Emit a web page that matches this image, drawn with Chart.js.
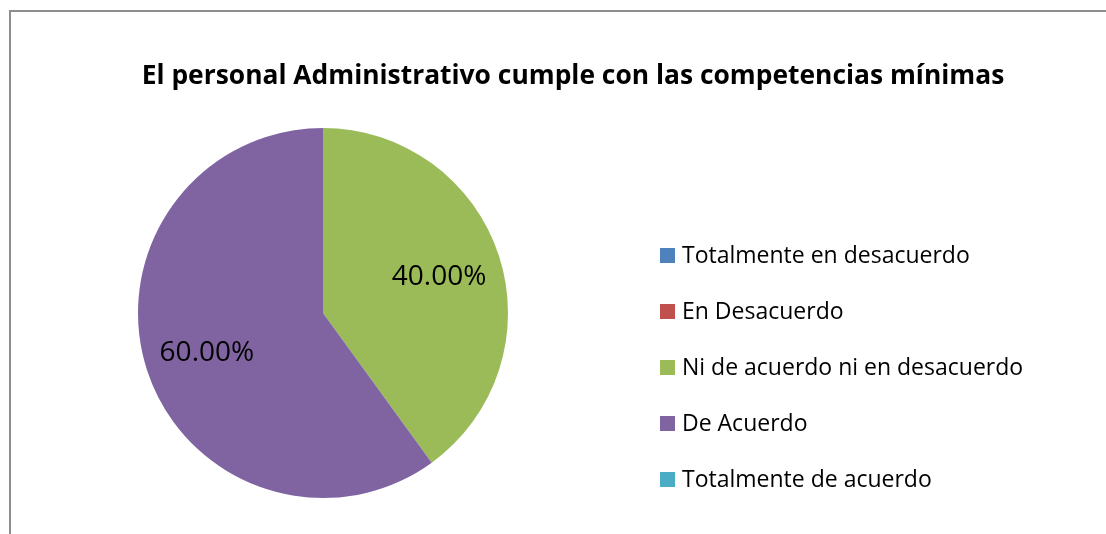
<!DOCTYPE html>
<html lang="es">
<head>
<meta charset="utf-8">
<title>Competencias mínimas</title>
<script src="https://cdn.jsdelivr.net/npm/chart.js@4.4.0/dist/chart.umd.min.js"></script>
<style>
    html, body { margin: 0; padding: 0; background: #fff; overflow: hidden; }
    #frame {
        position: absolute; left: 9px; top: 10px;
        width: 1200px; height: 600px;
        border: 2px solid #8e8e8e;
    }
    #chartBox { position: absolute; left: 0; top: 0; width: 1106px; height: 534px; }
</style>
</head>
<body>
<div id="frame"></div>
<div id="chartBox"><canvas id="pieChart" width="1106" height="534"></canvas></div>
<script>
const chartTitle = 'El personal Administrativo cumple con las competencias mínimas';
const categories = [
    'Totalmente en desacuerdo',
    'En Desacuerdo',
    'Ni de acuerdo ni en desacuerdo',
    'De Acuerdo',
    'Totalmente de acuerdo'
];
const percentages = [0, 0, 40, 60, 0];
const sliceColors = ['#4F81BD', '#C0504D', '#9BBB59', '#8064A2', '#4BACC6'];

const FONT = '"Open Sans", "Noto Sans", sans-serif';

// title, in-slice percentages and legend, drawn on the same canvas
const decorations = {
    id: 'decorations',
    afterDatasetsDraw(chart) {
        const ctx = chart.ctx;
        const meta = chart.getDatasetMeta(0);
        const values = chart.data.datasets[0].data;

        ctx.save();
        ctx.fillStyle = '#000';
        ctx.textAlign = 'center';
        ctx.textBaseline = 'middle';
        ctx.font = `28px ${FONT}`;
        meta.data.forEach((arc, i) => {
            if (!values[i]) return;
            const mid = (arc.startAngle + arc.endAngle) / 2;
            const r = arc.outerRadius * 0.66;
            ctx.fillText(values[i].toFixed(2) + '%', arc.x + Math.cos(mid) * r, arc.y + Math.sin(mid) * r + 2);
        });
        ctx.restore();
    },
    afterDraw(chart) {
        const ctx = chart.ctx;
        const area = chart.chartArea;
        const colors = chart.data.datasets[0].backgroundColor;

        ctx.save();
        ctx.fillStyle = '#000';
        ctx.textAlign = 'center';
        ctx.textBaseline = 'alphabetic';
        ctx.font = `bold 26.4px ${FONT}`;
        ctx.fillText(chartTitle, 573, 84);

        // legend
        const legendX = area.right + 152;
        ctx.textAlign = 'left';
        ctx.textBaseline = 'middle';
        ctx.font = `23px ${FONT}`;
        chart.data.labels.forEach((label, i) => {
            const y = 255 + i * 56;
            ctx.fillStyle = colors[i];
            ctx.fillRect(legendX, y - 7, 15, 15);
            ctx.fillStyle = '#000';
            ctx.fillText(label, legendX + 22, y + 1);
        });
        ctx.restore();
    }
};

new Chart(document.getElementById('pieChart'), {
    type: 'pie',
    data: {
        labels: categories,
        datasets: [{
            data: percentages,
            backgroundColor: sliceColors,
            borderWidth: 0,
            hoverOffset: 0
        }]
    },
    options: {
        responsive: false,
        animation: false,
        layout: {
            padding: { top: 128, bottom: 36, left: 138, right: 598 }
        },
        plugins: {
            legend: { display: false },
            title: { display: false },
            tooltip: { enabled: false }
        }
    },
    plugins: [decorations]
});
</script>
</body>
</html>
